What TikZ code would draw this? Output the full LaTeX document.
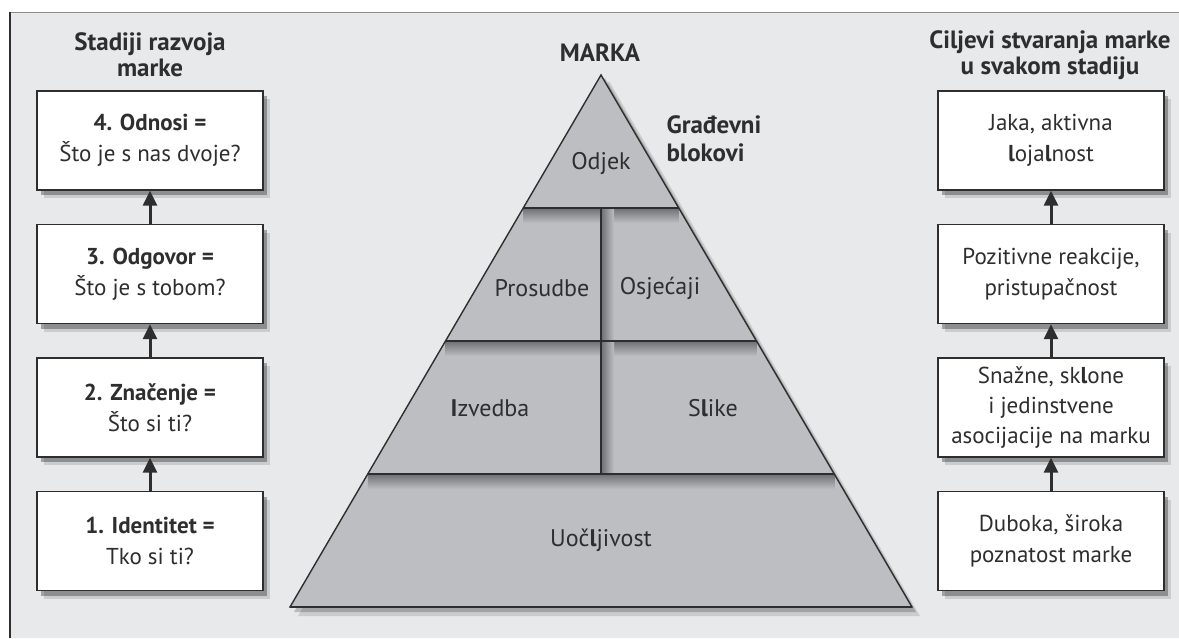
\documentclass[tikz,border=0pt]{standalone}
\usepackage{fontspec}
\setmainfont{PT Sans}
\usetikzlibrary{arrows.meta,calc,shadows}

\definecolor{panel}{HTML}{E8E9EB}
\definecolor{pyr}{HTML}{BDBEC2}
\definecolor{pyrdark}{HTML}{6E6F73}
\definecolor{ink}{HTML}{2E2E2E}
\newcommand\boldel{{\bfseries l}}
\newcommand\boldI{{\bfseries I}}

\begin{document}
\begin{tikzpicture}[
	x=1pt, y=-1pt,
	stagebox/.style={ draw=ink, line width=1.4pt, fill=white, minimum width=226pt, minimum height=99pt, align=center, text=ink, font=\fontsize{23}{31}\selectfont,
		drop shadow={shadow xshift=7pt, shadow yshift=-8pt, fill=black, opacity=.12},
		drop shadow={shadow xshift=4pt, shadow yshift=-5pt, fill=black, opacity=.3} },
	heading/.style={ align=center, text=ink, font=\bfseries\fontsize{25}{26}\selectfont },
	block/.style={ text=ink, font=\fontsize{24}{28}\selectfont },
	uparrow/.style={ draw=ink, line width=3pt, -{Triangle[width=14pt,length=15pt]} },
]
\useasboundingbox (0,0) rectangle (1179,638);

% panel
\fill[panel] (10,12) rectangle (1179,638);
\draw[black!45, line width=1pt] (10,12) -- (1179,12);
\draw[ink, line width=2.5pt] (10,12) -- (10,638);

% pyramid
\coordinate (apex) at (601,75);
\coordinate (baseleft) at (290,607);
\coordinate (baseright) at (912,607);
\foreach \t/\n in {0.25/t1,0.5/t2,0.75/t3} {
	\coordinate (\n-l) at ($(apex)!\t!(baseleft)$);
	\coordinate (\n-r) at ($(apex)!\t!(baseright)$);
}
\fill[black, opacity=.12] ($(apex)+(8,6)$) -- ($(baseleft)+(8,9)$) -- ($(baseright)+(8,9)$) -- cycle;
\fill[black, opacity=.2] ($(apex)+(4,3)$) -- ($(baseleft)+(4,5)$) -- ($(baseright)+(4,5)$) -- cycle;
\fill[pyr] (apex) -- (baseleft) -- (baseright) -- cycle;
\begin{scope}
	\clip (apex) -- (baseleft) -- (baseright) -- cycle;
	\foreach \n in {t1,t2,t3}
		\shade[top color=pyrdark, bottom color=pyr] (\n-l) rectangle ($(\n-r)+(0,15)$);
	\shade[left color=pyrdark, right color=pyr] (t1-l -| apex) rectangle ($(t3-l -| apex)+(13,0)$);
\end{scope}
\draw[ink, line width=1.4pt] (apex) -- (baseleft) -- (baseright) -- cycle;
\draw[ink, line width=2.4pt] (baseleft) -- (baseright);
\foreach \n in {t1,t2,t3}
	\draw[ink, line width=2.4pt] (\n-l) -- (\n-r);
\draw[ink, line width=2.4pt] (t1-l -| apex) -- (t3-l -| apex);

\node at (601,163) (odjek) [block] {Odjek};
\node at (542,288) (prosudbe) [block] {Prosudbe};
\node at (660,288) (osjecaji) [block] {Osjećaji};
\node at (490,408) (izvedba) [block] {\boldI zvedba};
\node at (713,408) (slike) [block] {S\boldel ike};
\node at (601,540) (uocljivost) [block] {Uoč\boldel jivost};

\node at (600,53) (marka) [heading] {MARKA};
\node at (663,139) (blokovi) [heading, anchor=west, align=left, font=\bfseries\fontsize{25}{28}\selectfont] {Građevni\\blokovi};

% stages
\node at (150,55) (stagetitle) [heading] {Stadiji razvoja\\marke};
\node at (150,541) (s1) [stagebox] {\textbf{1. Identitet =}\\Tko si ti?};
\node at (150,407.5) (s2) [stagebox] {\textbf{2. Značenje =}\\Što si ti?};
\node at (150,274) (s3) [stagebox] {\textbf{3. Odgovor =}\\Što je s tobom?};
\node at (150,140.5) (s4) [stagebox] {\textbf{4. Odnosi =}\\Što je s nas dvoje?};

% goals
\node at (1050,55) (goaltitle) [heading] {Ciljevi stvaranja marke\\u svakom stadiju};
\node at (1051,541) (g1) [stagebox] {Duboka, široka\\poznatost marke};
\node at (1051,407.5) (g2) [stagebox, font=\fontsize{23}{30}\selectfont] {Snažne, sk\boldel one\\i jedinstvene\\asocijacije na marku};
\node at (1051,274) (g3) [stagebox] {Pozitivne reakcije,\\pristupačnost};
\node at (1051,140.5) (g4) [stagebox] {Jaka, aktivna\\\boldel oja\boldel nost};

\foreach \a/\b in {s1/s2,s2/s3,s3/s4,g1/g2,g2/g3,g3/g4} {
	\draw[uparrow] (\a) to (\b);
}

\end{tikzpicture}
\end{document}
